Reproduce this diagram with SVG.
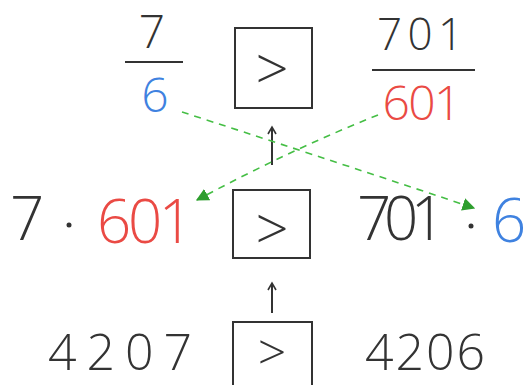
<svg xmlns="http://www.w3.org/2000/svg" width="525" height="385" viewBox="0 0 525 385">
<defs>
<style>
.t{font-family:"Open Sans","Liberation Sans",sans-serif;font-weight:300;text-anchor:middle}
.k{fill:#333}
.r{fill:#ea4a44}
.b{fill:#3f82e0}
.box{fill:none;stroke:#333;stroke-width:2}
.ln{stroke:#333;stroke-width:2;fill:none}
.g{stroke:#45be45;stroke-width:1.6;fill:none;stroke-dasharray:7 6}
</style>
<marker id="ga" viewBox="0 0 10 10" refX="9" refY="5" markerWidth="8" markerHeight="8" orient="auto"><path d="M0,0 L10,5 L0,10 Z" fill="#2e9e2e"/></marker>
<marker id="ka" viewBox="0 0 10 10" refX="8" refY="5" markerWidth="5" markerHeight="5" orient="auto"><path d="M1,1 L8,5 L1,9" fill="none" stroke="#333" stroke-width="1.6"/></marker>
</defs>
<rect width="525" height="385" fill="#fff"/>
<g id="frac-left">
<text class="t k" x="152" y="48" font-size="46">7</text>
<line class="ln" x1="125" y1="62" x2="183" y2="62"/>
<text class="t b" x="155" y="112" font-size="48">6</text>
</g>
<g id="box-top">
<rect class="box" x="235" y="28" width="77" height="80"/>
<text class="t k" x="272" y="90" font-size="58">&gt;</text>
</g>
<g id="frac-right">
<text class="t k" x="420" y="50" font-size="44" textLength="86" lengthAdjust="spacing">701</text>
<line class="ln" x1="372" y1="70" x2="475" y2="70"/>
<text class="t r" x="422" y="120" font-size="48" textLength="79" lengthAdjust="spacing">601</text>
</g>
<g id="mid-left">
<text class="t k" x="27" y="240" font-size="60">7</text>
<circle cx="69" cy="225" r="2.5" fill="#333"/>
<text class="t r" x="145" y="243" font-size="60" textLength="96" lengthAdjust="spacing">601</text>
</g>
<g id="box-mid">
<rect class="box" x="233" y="190" width="77" height="68"/>
<text class="t k" x="272" y="250" font-size="58">&gt;</text>
</g>
<g id="mid-right">
<text class="t k" x="401" y="240" font-size="60" textLength="88" lengthAdjust="spacing">701</text>
<circle cx="471" cy="226" r="2.5" fill="#333"/>
<text class="t b" x="509" y="242" font-size="60">6</text>
</g>
<g id="bottom-left">
<text class="t k" x="120" y="370" font-size="50" textLength="144" lengthAdjust="spacing">4207</text>
</g>
<g id="box-bottom">
<rect class="box" x="233" y="322" width="79" height="80"/>
<text class="t k" x="272" y="370" font-size="50">&gt;</text>
</g>
<g id="bottom-right">
<text class="t k" x="425" y="370" font-size="50" textLength="120" lengthAdjust="spacing">4206</text>
</g>
<g id="connectors">
<line class="ln" x1="272" y1="165" x2="272" y2="127" marker-end="url(#ka)"/>
<line class="ln" x1="272" y1="313" x2="272" y2="283" marker-end="url(#ka)"/>
<path class="g" d="M182,112 Q300,150 474,208" marker-end="url(#ga)"/>
<path class="g" d="M378,115 Q290,150 197,200" marker-end="url(#ga)"/>
</g>
</svg>
